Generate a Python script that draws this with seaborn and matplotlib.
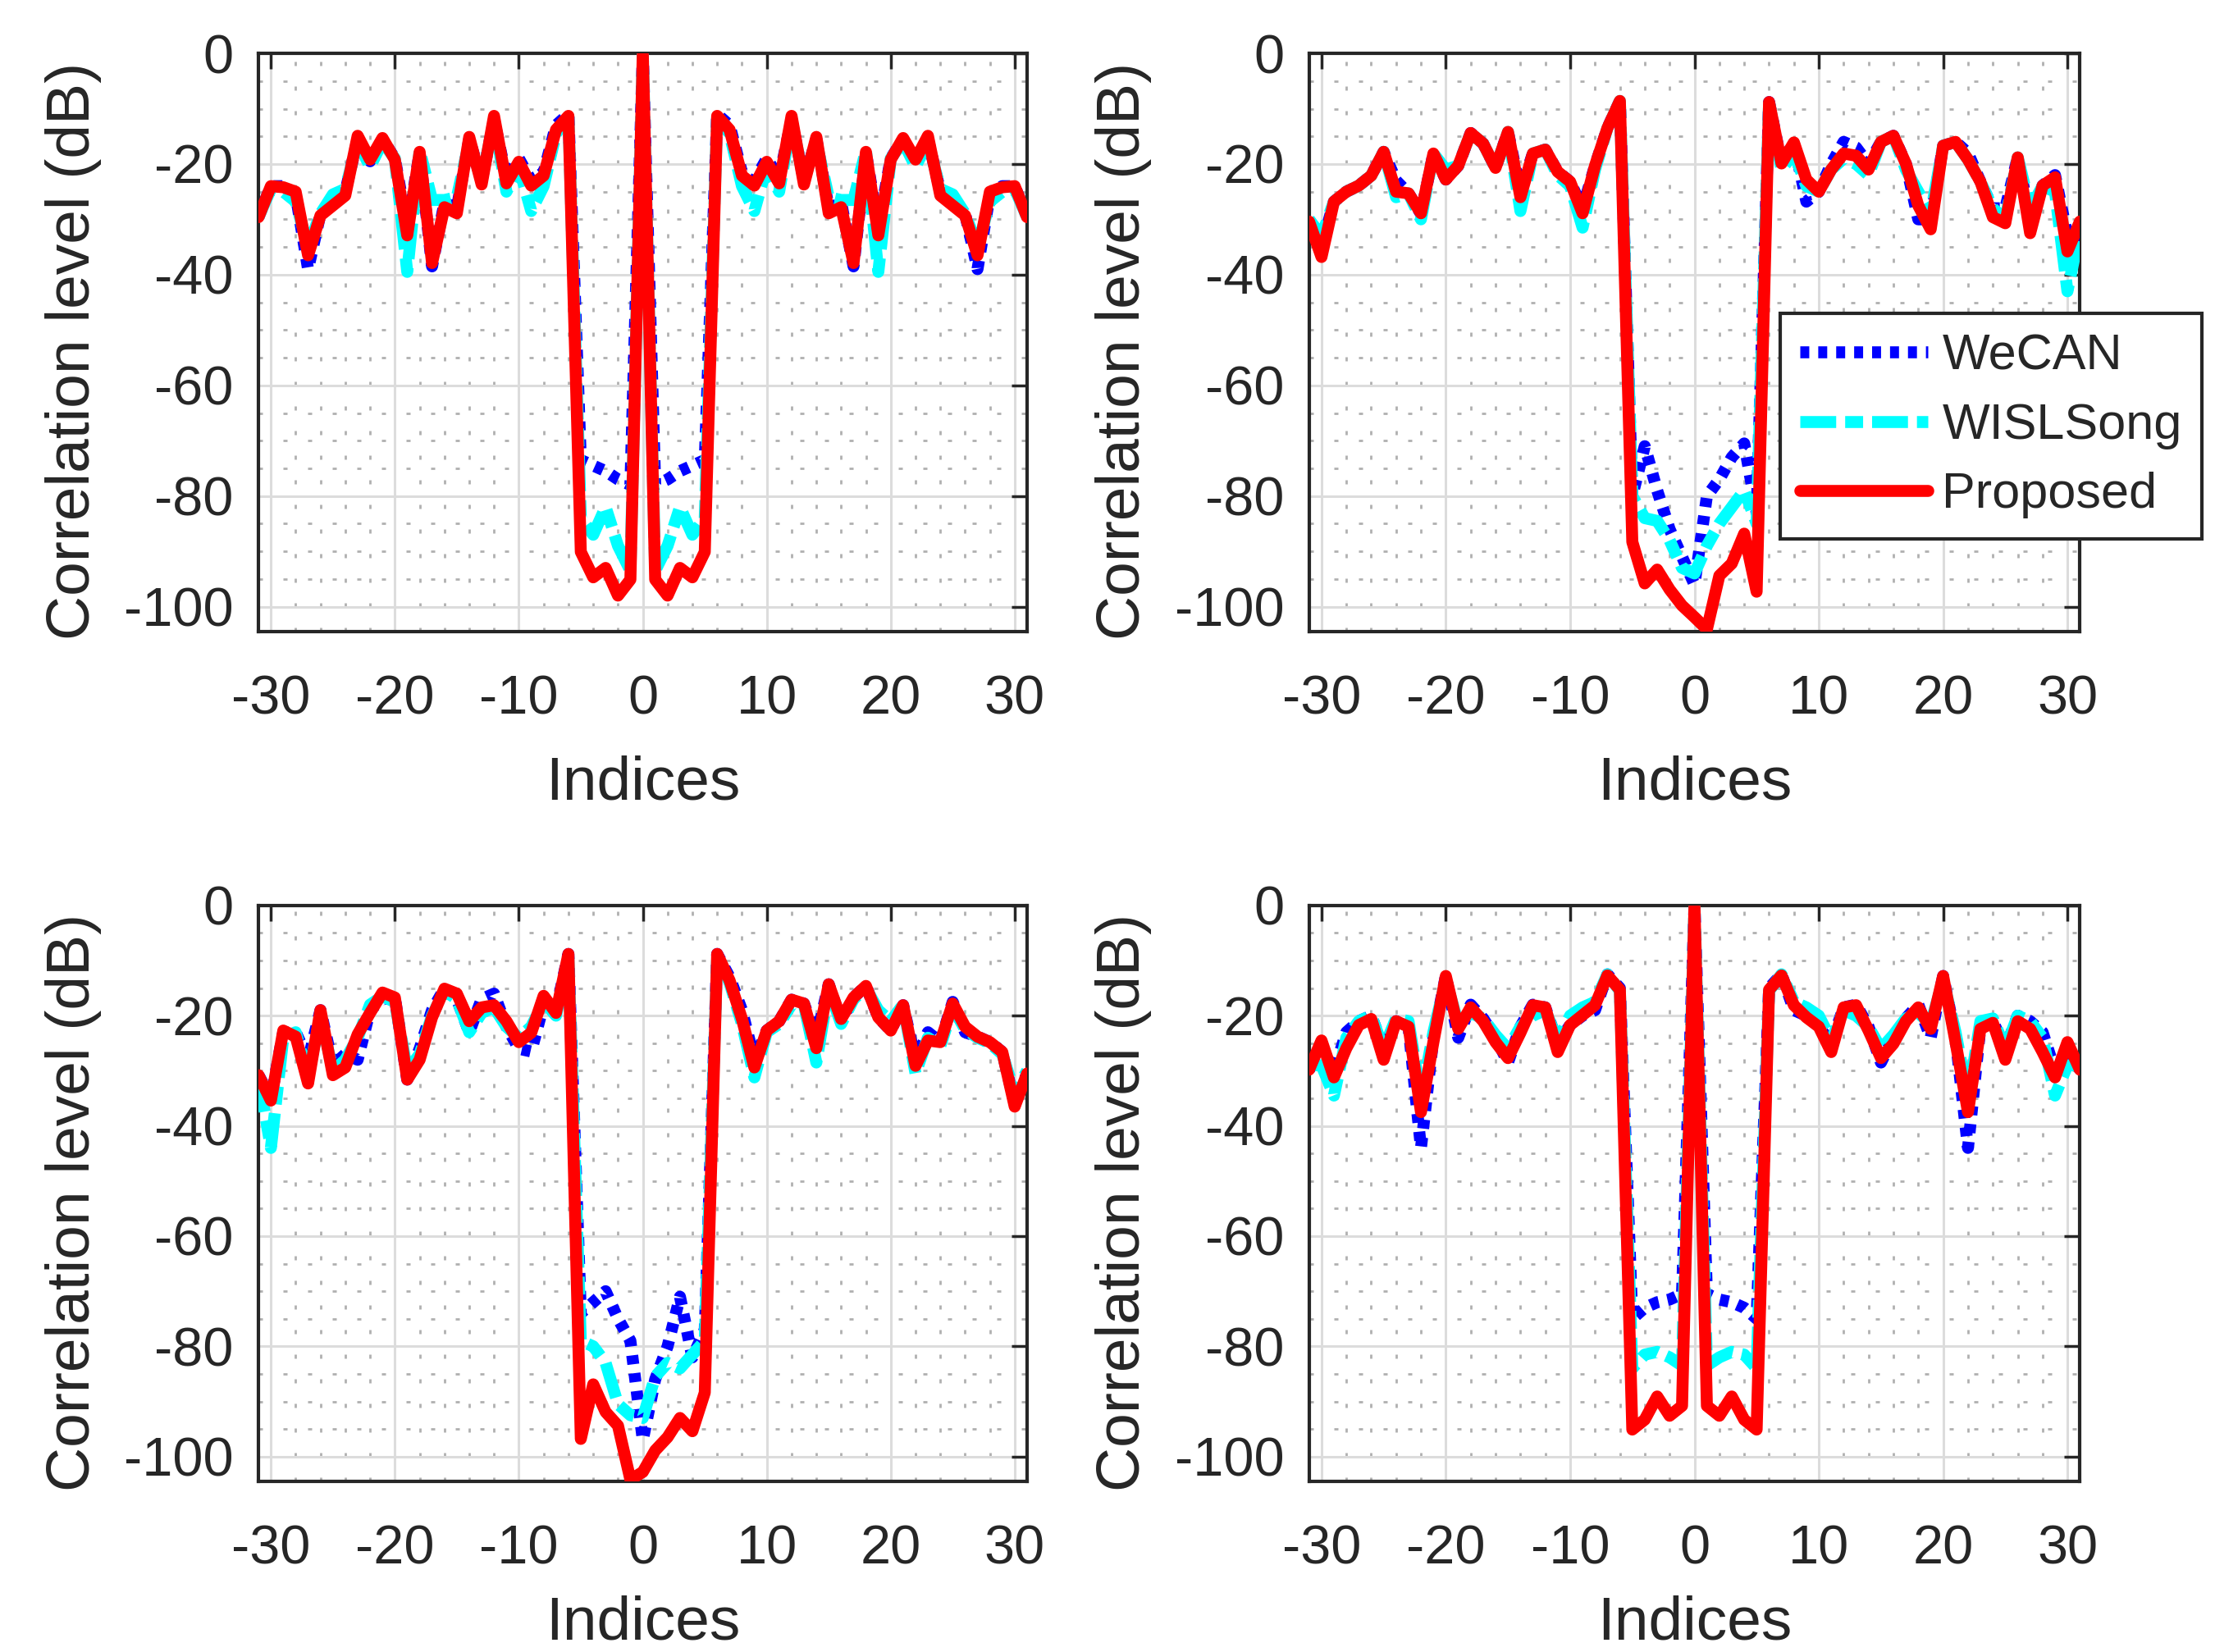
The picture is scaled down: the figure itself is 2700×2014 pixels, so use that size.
import matplotlib
matplotlib.use("Agg")
import matplotlib.pyplot as plt
import pandas as pd
import seaborn as sns
from matplotlib.ticker import MultipleLocator

# lag indices shared by all four panels
lags = list(range(-31, 32))

# ---- top left panel ----
tl_wecan = [-29.6, -24.0, -24.0, -25.5, -39.0, -29.0, -27.0, -25.0, -15.5, -19.5, -15.5, -19.0, -31.5,
            -18.0, -38.5, -27.0, -28.0, -15.5, -23.0, -12.0, -22.5, -19.0, -23.0, -21.5, -13.0, -11.0,
            -73.5, -74.5, -75.5, -77.0, -78.0, 0.0, -78.0, -77.0, -75.5, -74.5, -73.5, -11.0, -13.0,
            -21.5, -23.0, -19.0, -22.5, -12.0, -23.0, -15.5, -28.0, -27.0, -38.5, -18.0, -31.5, -19.0,
            -15.5, -19.5, -15.5, -25.0, -27.0, -29.0, -39.0, -25.5, -24.0, -24.0, -29.6]
tl_wisl = [-29.6, -24.5, -25.0, -26.8, -35.0, -29.0, -25.5, -24.5, -16.0, -20.5, -16.0, -19.0, -39.5,
           -17.5, -26.5, -26.5, -26.0, -16.0, -23.0, -12.0, -25.0, -20.5, -28.5, -24.0, -14.5, -11.5,
           -84.0, -87.0, -82.0, -89.0, -93.5, 0.0, -93.5, -89.0, -82.0, -87.0, -84.0, -11.5, -14.5,
           -24.0, -28.5, -20.5, -25.0, -12.0, -23.0, -16.0, -26.0, -26.5, -26.5, -17.5, -39.5, -19.0,
           -16.0, -20.5, -16.0, -24.5, -25.5, -29.0, -35.0, -26.8, -25.0, -24.5, -29.6]
tl_prop = [-29.6, -24.0, -24.2, -25.0, -36.5, -29.3, -27.5, -25.7, -14.9, -19.2, -15.3, -19.2, -32.9,
           -17.8, -37.9, -27.8, -28.9, -15.1, -23.7, -11.3, -23.5, -19.6, -23.9, -22.1, -13.8, -11.3,
           -90.1, -94.7, -93.0, -98.0, -95.1, 0.0, -95.1, -98.0, -93.0, -94.7, -90.1, -11.3, -13.8,
           -22.1, -23.9, -19.6, -23.5, -11.3, -23.7, -15.1, -28.9, -27.8, -37.9, -17.8, -32.9, -19.2,
           -15.3, -19.2, -14.9, -25.7, -27.5, -29.3, -36.5, -25.0, -24.2, -24.0, -29.6]

# ---- top right panel ----
tr_wecan = [-30.4, -35.0, -26.8, -25.0, -23.9, -22.1, -17.8, -23.0, -25.3, -29.0, -18.1, -22.8, -20.3,
            -14.4, -16.3, -20.7, -14.2, -25.0, -18.1, -17.4, -21.4, -23.2, -28.0, -20.3, -13.5, -8.6,
            -80.0, -71.0, -79.0, -86.0, -91.0, -96.0, -80.0, -77.0, -73.0, -70.5, -83.0, -8.8, -19.9,
            -16.1, -26.8, -25.0, -20.0, -16.0, -17.0, -20.0, -16.0, -14.9, -19.9, -30.0, -30.0, -16.7,
            -16.0, -18.0, -23.2, -28.0, -28.0, -18.8, -30.0, -23.9, -22.0, -33.0, -33.0]
tr_wisl = [-30.0, -33.0, -26.8, -25.0, -23.9, -22.1, -17.8, -26.0, -25.3, -30.0, -18.1, -21.0, -20.3,
           -14.4, -16.3, -20.7, -14.2, -28.5, -18.1, -17.4, -22.0, -24.0, -31.5, -21.0, -13.5, -8.6,
           -80.0, -84.0, -84.5, -88.0, -93.0, -94.0, -89.0, -85.0, -82.0, -79.0, -85.0, -8.8, -21.0,
           -18.0, -24.0, -25.0, -21.0, -19.0, -20.0, -22.0, -16.0, -14.9, -21.0, -25.0, -29.0, -16.7,
           -16.0, -19.2, -23.2, -28.0, -30.0, -18.8, -28.0, -24.0, -25.0, -43.0, -32.0]
tr_prop = [-30.4, -36.8, -26.8, -25.0, -23.9, -22.1, -17.8, -25.0, -25.3, -28.9, -18.1, -22.8, -20.3,
           -14.4, -16.3, -20.7, -14.2, -26.0, -18.1, -17.4, -21.4, -23.2, -28.9, -20.3, -13.5, -8.6,
           -88.3, -95.8, -93.3, -96.9, -99.8, -101.9, -104.1, -94.4, -92.2, -86.8, -97.3, -8.8, -19.9,
           -16.1, -22.8, -25.0, -21.0, -18.1, -18.5, -21.0, -16.0, -14.9, -19.9, -27.5, -31.8, -16.7,
           -16.0, -19.2, -23.2, -29.6, -30.7, -18.8, -32.5, -23.9, -22.4, -35.8, -30.4]

# ---- bottom left panel ----
bl_wecan = [-30.8, -35.0, -23.0, -23.0, -28.0, -19.0, -29.0, -27.0, -28.0, -19.0, -17.0, -16.7, -31.6,
            -26.0, -19.0, -15.1, -17.0, -23.0, -17.0, -16.0, -22.0, -26.0, -26.5, -18.0, -19.0, -8.8,
            -74.0, -72.0, -70.0, -75.0, -79.0, -97.0, -86.0, -80.0, -71.0, -82.0, -77.0, -8.8, -13.0,
            -19.0, -28.0, -22.7, -21.0, -17.1, -17.8, -24.0, -14.3, -21.0, -16.7, -14.6, -20.3, -22.7,
            -18.1, -28.0, -23.0, -24.8, -17.5, -23.0, -23.8, -24.8, -26.6, -36.0, -30.5]
bl_wisl = [-31.0, -44.0, -24.0, -23.0, -31.0, -20.0, -30.0, -28.0, -24.0, -18.0, -16.5, -17.5, -30.0,
           -27.0, -20.0, -15.5, -17.0, -23.0, -19.5, -18.5, -22.0, -24.0, -22.0, -17.5, -20.0, -9.5,
           -79.0, -80.0, -83.0, -90.5, -92.5, -93.0, -85.5, -83.0, -84.0, -81.5, -79.0, -9.5, -14.0,
           -21.5, -31.2, -23.0, -21.5, -18.0, -18.0, -28.5, -15.0, -21.5, -17.0, -15.0, -19.0, -21.0,
           -18.0, -30.5, -24.0, -25.5, -18.5, -22.5, -24.0, -25.0, -27.0, -34.0, -30.0]
bl_prop = [-30.8, -35.4, -22.7, -23.8, -32.3, -19.0, -30.8, -29.4, -23.4, -19.5, -15.8, -16.7, -31.6,
           -28.0, -20.3, -15.1, -16.0, -21.0, -18.5, -18.1, -21.0, -24.8, -23.1, -16.4, -19.5, -8.8,
           -96.8, -86.9, -91.9, -94.4, -104.2, -102.8, -98.9, -96.5, -93.0, -95.4, -88.4, -8.8, -13.6,
           -20.6, -29.4, -22.7, -21.0, -17.1, -17.8, -25.9, -14.3, -20.6, -16.7, -14.6, -20.3, -22.7,
           -18.1, -29.1, -24.5, -24.8, -17.8, -22.0, -23.8, -24.8, -26.6, -36.5, -30.5]

# ---- bottom right panel ----
br_wecan = [-29.8, -26.0, -30.0, -23.0, -21.0, -20.0, -26.0, -21.0, -22.0, -44.0, -24.0, -12.8, -24.0,
            -18.0, -20.5, -24.0, -28.5, -22.0, -18.0, -18.5, -25.0, -21.7, -20.0, -19.0, -12.5, -15.0,
            -75.0, -73.0, -72.0, -71.5, -70.5, 0.0, -70.5, -71.5, -72.0, -73.0, -75.0, -15.0, -12.5,
            -19.0, -20.0, -22.0, -25.0, -18.5, -18.0, -22.0, -28.5, -24.0, -20.5, -18.0, -24.0, -12.8,
            -24.0, -44.0, -22.0, -21.0, -26.0, -20.0, -21.0, -23.0, -30.0, -26.0, -29.8]
br_wisl = [-29.0, -29.0, -34.5, -24.0, -21.0, -20.0, -26.0, -20.5, -21.0, -35.0, -23.0, -13.5, -21.5,
           -19.5, -20.5, -23.5, -26.0, -22.0, -20.0, -19.0, -24.5, -20.0, -18.5, -17.5, -12.5, -15.5,
           -84.0, -81.5, -81.0, -82.0, -83.5, 0.0, -83.5, -82.0, -81.0, -81.5, -84.0, -15.5, -12.5,
           -17.5, -18.5, -20.0, -24.5, -19.0, -20.0, -22.0, -26.0, -23.5, -20.5, -19.5, -21.5, -13.5,
           -23.0, -35.0, -21.0, -20.5, -26.0, -20.0, -21.0, -24.0, -34.5, -29.0, -29.0]
br_prop = [-29.8, -24.5, -31.2, -25.9, -21.7, -20.6, -28.0, -21.0, -22.0, -37.5, -24.8, -12.8, -22.4,
           -18.5, -21.0, -24.8, -27.7, -23.1, -18.1, -18.5, -26.6, -21.7, -19.9, -18.1, -12.7, -15.3,
           -95.1, -93.3, -89.1, -92.6, -90.8, 0.0, -90.8, -92.6, -89.1, -93.3, -95.1, -15.3, -12.7,
           -18.1, -20.3, -22.0, -26.6, -18.5, -18.1, -22.7, -27.7, -25.1, -21.0, -18.5, -22.4, -12.8,
           -24.8, -37.5, -22.4, -21.3, -28.0, -21.0, -22.4, -26.6, -31.2, -24.8, -29.8]

method_names = ["WeCAN", "WISLSong", "Proposed"]

sns.set_style("white")
plt.rcParams['font.family'] = ['Liberation Sans', 'DejaVu Sans']
plt.rcParams['axes.unicode_minus'] = False

fig = plt.figure(figsize=(27, 20.14), dpi=100)

# axes rectangle and x-label offset for each panel
panels = [
    ([0.1167, 0.6177, 0.347, 0.350], -0.214, tl_wecan, tl_wisl, tl_prop),
    ([0.591, 0.6177, 0.348, 0.350], -0.214, tr_wecan, tr_wisl, tr_prop),
    ([0.1167, 0.1033, 0.347, 0.3486], -0.198, bl_wecan, bl_wisl, bl_prop),
    ([0.591, 0.1033, 0.348, 0.3486], -0.198, br_wecan, br_wisl, br_prop),
]

styles = {
    "WeCAN": dict(color="#0000ff", linestyle=(0, (0.75, 0.75))),
    "WISLSong": dict(color="#00ffff", linestyle=(0, (3, 0.75, 1.5, 0.75))),
    "Proposed": dict(color="#ff0000", linestyle="-"),
}

ink = "#262626"
handles = None
for pos, xlab_y, we, wi, pr in panels:
    ax = fig.add_axes(pos)
    df = pd.DataFrame({"Indices": lags, "WeCAN": we, "WISLSong": wi, "Proposed": pr})
    for k, name in enumerate(method_names):
        sns.lineplot(data=df, x="Indices", y=name, ax=ax, lw=10.5, label=name,
                     estimator=None, sort=False, legend=False, zorder=3 + k,
                     dash_capstyle="butt", **styles[name])
    if handles is None:
        handles = list(ax.get_lines())

    ax.set_xlim(-31, 31)
    ax.set_ylim(-104.5, 0)
    ax.xaxis.set_major_locator(MultipleLocator(10))
    ax.xaxis.set_minor_locator(MultipleLocator(2))
    ax.yaxis.set_major_locator(MultipleLocator(20))
    ax.yaxis.set_minor_locator(MultipleLocator(5))
    ax.grid(which="major", color="#dcdcdc", lw=2.2, ls="-")
    ax.grid(which="minor", color="#b0b0b0", lw=2, ls=(0, (1.8, 9)))
    ax.set_axisbelow(True)
    ax.tick_params(which="major", direction="in", length=14, width=2.5, top=True, right=True,
                   labelsize=48, colors=ink)
    ax.tick_params(axis="x", which="major", pad=38)
    ax.tick_params(axis="y", which="major", pad=22)
    ax.tick_params(which="minor", length=0)
    for sp in ax.spines.values():
        sp.set_color(ink)
        sp.set_linewidth(3)
    ax.set_xlabel("Indices", fontsize=54, color=ink)
    ax.set_ylabel("Correlation level (dB)", fontsize=54, color=ink)
    ax.xaxis.set_label_coords(0.5, xlab_y)
    ax.yaxis.set_label_coords(-0.204, 0.485)

leg = fig.legend(handles, method_names, loc="upper left",
                 bbox_to_anchor=(2170 / 2700, 1 - 382 / 2014), fontsize=44,
                 frameon=True, fancybox=False, framealpha=1, edgecolor=ink,
                 borderpad=0.4, handlelength=2.55, handletextpad=0.28,
                 labelspacing=0.45, borderaxespad=0)
leg.get_frame().set_linewidth(3)

fig.savefig("out.png", dpi=100, facecolor="white")
